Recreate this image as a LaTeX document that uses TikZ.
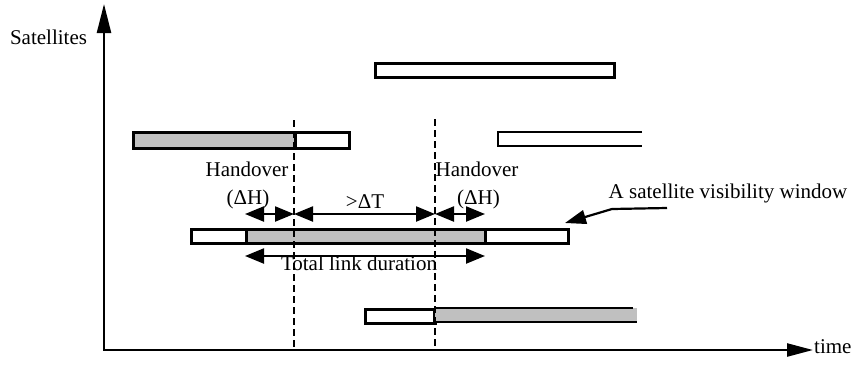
\documentclass[tikz,border=0pt]{standalone}
\usepackage{fontspec}
\setmainfont{Liberation Serif}
\usetikzlibrary{arrows.meta,calc}
\definecolor{bargrey}{RGB}{192,192,192}
\tikzset{
  bar/.style={draw=black,line width=2.6pt,inner sep=0pt,anchor=north west,minimum height=15pt},
  barline/.style={line width=2.6pt},
  lbl/.style={inner sep=0pt,font=\fontsize{21}{25}\selectfont},
  dimarrow/.style={line width=2.2pt,{Triangle[length=19pt,width=15pt]}-{Triangle[length=19pt,width=15pt]}},
  axis/.style={line width=2.4pt},
  guide/.style={line width=1.9pt,dash pattern=on 7pt off 4pt},
}
\begin{document}
\begin{tikzpicture}[x=1pt,y=-1pt]
\useasboundingbox (0,0) rectangle (854,365);
% axes
\coordinate (O) at (104,350);
\coordinate (ytop) at (104,4);
\coordinate (xend) at (813,350);
\draw[axis,-{Triangle[length=29pt,width=14pt]}] (O) -- (ytop);
\draw[axis,-{Triangle[length=26pt,width=13pt]}] (103,350) -- (xend);
\node[lbl,anchor=base] (sat) at (48.5,44) {Satellites};
\node[lbl,anchor=base west] (time) at (814,353) {time};
% bars row 2 (left)
\node[bar,fill=bargrey,minimum width=162pt,minimum height=16pt] (Ag) at (132,131) {};
\node[bar,fill=white,minimum width=54pt,minimum height=16pt] (Aw) at (294,131) {};
% top bar
\node[bar,fill=white,minimum width=239pt,minimum height=14pt] (B) at (374,62) {};
% row 2 right bar (open right side)
\coordinate (C1) at (642,132);
\coordinate (C2) at (498,132);
\coordinate (C3) at (498,146);
\coordinate (C4) at (642,146);
\draw[barline] (C1) -- (C2) -- (C3) -- (C4);
% middle bar
\node[bar,fill=white,minimum width=55pt,minimum height=14pt] (Dw1) at (190,228) {};
\node[bar,fill=bargrey,minimum width=239pt,minimum height=14pt] (Dg) at (245,228) {};
\node[bar,fill=white,minimum width=83pt,minimum height=14pt] (Dw2) at (484,228) {};
% bottom bar
\node[bar,fill=white,minimum width=70pt,minimum height=14pt] (Ew) at (364,308) {};
\fill[bargrey] (434,308) rectangle (637,322);
\coordinate (E1) at (434,308);
\coordinate (E2) at (633,308);
\coordinate (E3) at (434,322);
\coordinate (E4) at (637,322);
\draw[barline] (E1) -- (E2);
\draw[barline] (E3) -- (E4);
\draw[barline] (E1) -- (E3);
% dashed guides
\coordinate (g1t) at (294,120);
\coordinate (g1b) at (294,350);
\coordinate (g2t) at (435,119);
\coordinate (g2b) at (435,350);
\draw[guide] (g1t) -- (g1b);
\draw[guide] (g2t) -- (g2b);
% dimension arrows
\coordinate (a0) at (245,214);
\coordinate (a1) at (294,214);
\coordinate (a2) at (435,214);
\coordinate (a3) at (485,214);
\draw[dimarrow] (a0) -- (a1);
\draw[dimarrow] (a1) -- (a2);
\draw[dimarrow] (a2) -- (a3);
\coordinate (t0) at (245,256);
\coordinate (t1) at (485,256);
\draw[dimarrow] (t0) -- (t1);
% labels
\node[lbl,anchor=base] (ho1) at (247,176) {Handover};
\node[lbl,anchor=base] (dh1) at (248,204) {(ΔH)};
\node[lbl,anchor=base] (dt) at (365,208) {>ΔT};
\node[lbl,anchor=base] (ho2) at (477,176) {Handover};
\node[lbl,anchor=base] (dh2) at (478.5,204) {(ΔH)};
\node[lbl,anchor=base] (tld) at (359,270) {Total link duration};
\node[lbl,anchor=base] (vis) at (728,198) {A satellite visibility window};
% pointer arrow
\coordinate (p0) at (667,208);
\coordinate (p1) at (612,209);
\coordinate (p2) at (565,223);
\draw[line width=2.2pt,-{Triangle[length=21pt,width=14pt]}] (p0) -- (p1) -- (p2);
\end{tikzpicture}
\end{document}
